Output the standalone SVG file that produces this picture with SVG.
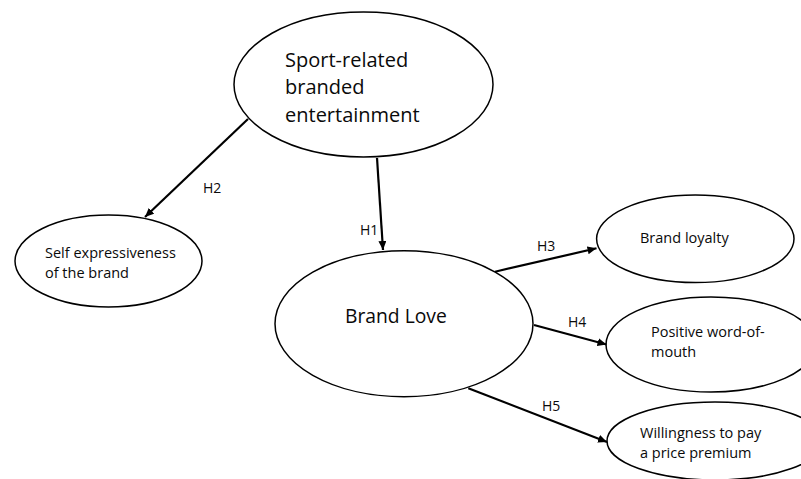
<svg xmlns="http://www.w3.org/2000/svg" width="801" height="479" viewBox="0 0 801 479">
<defs>
<style>
.node ellipse{fill:#fff;stroke:#000;stroke-width:1.5}
text{font-family:"Open Sans","Liberation Sans",sans-serif;fill:#0a0a0a}
.big{font-size:20px}
.bl{font-size:19.3px}
.sm{font-size:14.5px}
.lbl{font-size:14px}
.conn line{stroke:#000;stroke-width:2.2;marker-end:url(#ah)}
</style>
<marker id="ah" markerUnits="userSpaceOnUse" markerWidth="10" markerHeight="8" refX="9" refY="4" orient="auto">
<path d="M0,0 L9,4 L0,8 Z" fill="#000"/>
</marker>
</defs>
<rect width="801" height="479" fill="#fff"/>
<g id="n-sport" class="node">
<ellipse cx="363.5" cy="84.5" rx="129.5" ry="72.5"/>
<text class="big" x="285" y="67">Sport-related</text>
<text class="big" x="285" y="94">branded</text>
<text class="big" x="285" y="122">entertainment</text>
</g>
<g id="n-self" class="node">
<ellipse cx="108.5" cy="261" rx="93.5" ry="46"/>
<text class="sm" x="45" y="258">Self expressiveness</text>
<text class="sm" x="45" y="278">of the brand</text>
</g>
<g id="n-love" class="node">
<ellipse cx="404" cy="323.7" rx="129" ry="73"/>
<text class="bl" x="345" y="323">Brand Love</text>
</g>
<g id="n-loyalty" class="node">
<ellipse cx="695.3" cy="238.8" rx="98.7" ry="43.8"/>
<text class="sm" x="640" y="243.3">Brand loyalty</text>
</g>
<g id="n-wom" class="node">
<ellipse cx="711" cy="344.5" rx="105" ry="47.5"/>
<text class="sm" x="651" y="337">Positive word-of-</text>
<text class="sm" x="651" y="357">mouth</text>
</g>
<g id="n-wtp" class="node">
<ellipse cx="715" cy="441" rx="108" ry="39"/>
<text class="sm" x="640" y="438">Willingness to pay</text>
<text class="sm" x="640" y="458">a price premium</text>
</g>
<g id="connectors" class="conn">
<line x1="248" y1="119" x2="145" y2="217"/>
<line x1="377" y1="158" x2="383" y2="250"/>
<line x1="495" y1="271.7" x2="596.5" y2="248.3"/>
<line x1="534" y1="325" x2="606.5" y2="344.5"/>
<line x1="468.3" y1="388.3" x2="607" y2="442"/>
</g>
<g id="labels">
<text class="lbl" x="203" y="193">H2</text>
<text class="lbl" x="360" y="235">H1</text>
<text class="lbl" x="537" y="251">H3</text>
<text class="lbl" x="568" y="327">H4</text>
<text class="lbl" x="542" y="411">H5</text>
</g>
</svg>
